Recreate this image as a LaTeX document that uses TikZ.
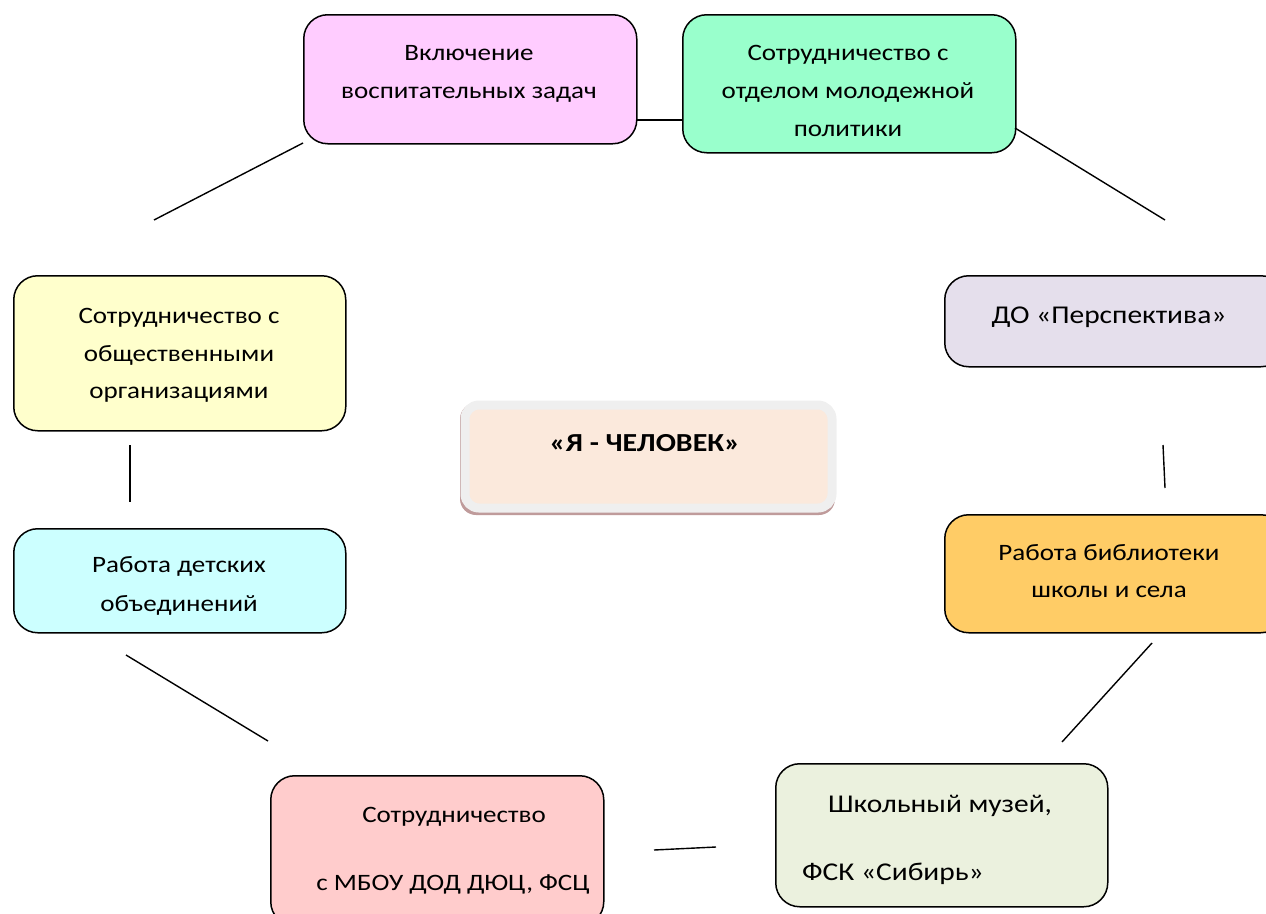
\documentclass[tikz,border=0pt]{standalone}
\usepackage{fontspec}
\setmainfont{Carlito}[FakeStretch=1.15]
\begin{document}
\begin{tikzpicture}[x=1pt,y=-1pt,
  box/.style={draw=black, line width=1.5pt, rounded corners=24pt, anchor=north west, inner sep=0pt},
  txt/.style={font=\fontsize{23.5}{28}\selectfont, inner sep=0pt, anchor=base},
  bigtxt/.style={txt, font=\fontsize{25.6}{30}\selectfont},
  link/.style={line width=1.4pt}]
\useasboundingbox (0,0) rectangle (1266,913);
\definecolor{cpink}{HTML}{FFCCFF}
\definecolor{cgreen}{HTML}{99FFCC}
\definecolor{cyel}{HTML}{FFFFCC}
\definecolor{clav}{HTML}{E5DFEC}
\definecolor{ccyan}{HTML}{CCFFFF}
\definecolor{corange}{HTML}{FFCC66}
\definecolor{cred}{HTML}{FFCCCC}
\definecolor{colive}{HTML}{EBF1DE}
\definecolor{cpeach}{HTML}{FBE9DC}
\definecolor{cshadow}{HTML}{BF9B9B}
\definecolor{cframe}{HTML}{EFEFEF}

% boxes
\node[box, fill=cpink, minimum width=333pt, minimum height=129pt] (b1) at (303,14) {};
\node[box, fill=cgreen, minimum width=333pt, minimum height=138pt] (b2) at (682,14) {};
\node[box, fill=cyel, minimum width=332pt, minimum height=155pt] (b3) at (13,275) {};
\node[box, fill=clav, minimum width=340pt, minimum height=91pt] (b4) at (944,275) {};
\node[box, fill=ccyan, minimum width=332pt, minimum height=104pt] (b6) at (13,528) {};
\node[box, fill=corange, minimum width=340pt, minimum height=118pt] (b7) at (944,514) {};
\node[box, fill=cred, minimum width=333pt, minimum height=150pt] (b8) at (270,775) {};
\node[box, fill=colive, minimum width=332pt, minimum height=143pt] (b9) at (775,763) {};

% center
\fill[cshadow, rounded corners=16pt] (460,403) rectangle (835,515);
\node[draw=cframe, line width=9pt, fill=cpeach, rounded corners=14pt, anchor=north west,
  minimum width=367pt, minimum height=103pt, inner sep=0pt] (c) at (460.5,400.5) {};

% texts
\node[txt] (t1a) at (469,60) {Включение};
\node[txt] (t1b) at (469,98) {воспитательных задач};
\node[txt] (t2a) at (848,60) {Сотрудничество с};
\node[txt] (t2b) at (848,98) {отделом молодежной};
\node[txt] (t2c) at (848,136) {политики};
\node[txt] (t3a) at (179,323) {Сотрудничество с};
\node[txt] (t3b) at (179,361) {общественными};
\node[txt] (t3c) at (179,398) {организациями};
\node[bigtxt] (t4) at (1109,323) {ДО «Перспектива»};
\node[txt, font=\fontsize{26}{30}\selectfont\bfseries] (tc) at (645,451) {«Я - ЧЕЛОВЕК»};
\node[txt] (t6a) at (179,572) {Работа детских};
\node[txt] (t6b) at (179,611) {объединений};
\node[txt] (t7a) at (1109,560) {Работа библиотеки};
\node[txt] (t7b) at (1109,597) {школы и села};
\node[txt] (t8a) at (454,822) {Сотрудничество};
\node[txt] (t8b) at (453,890) {с МБОУ ДОД ДЮЦ, ФСЦ};
\node[bigtxt] (t9a) at (940,812) {Школьный музей,};
\node[bigtxt, anchor=base west] (t9b) at (802,880) {ФСК «Сибирь»};

% connector ends
\coordinate (p1) at (636,120); \coordinate (p2) at (682,120);
\coordinate (p3) at (303,143); \coordinate (p4) at (154,220);
\coordinate (p5) at (1015,128); \coordinate (p6) at (1165,220);
\coordinate (p7) at (130,445); \coordinate (p8) at (130,502);
\coordinate (p9) at (1163,445); \coordinate (p10) at (1165,488);
\coordinate (p11) at (1152,643); \coordinate (p12) at (1062,742);
\coordinate (p13) at (126,655); \coordinate (p14) at (268,741);
\coordinate (p15) at (654,850); \coordinate (p16) at (716,847);
\draw[link] (p1) -- (p2);
\draw[link] (p3) -- (p4);
\draw[link] (p5) -- (p6);
\draw[link] (p7) -- (p8);
\draw[link] (p9) -- (p10);
\draw[link] (p11) -- (p12);
\draw[link] (p13) -- (p14);
\draw[link] (p15) -- (p16);
\end{tikzpicture}
\end{document}
